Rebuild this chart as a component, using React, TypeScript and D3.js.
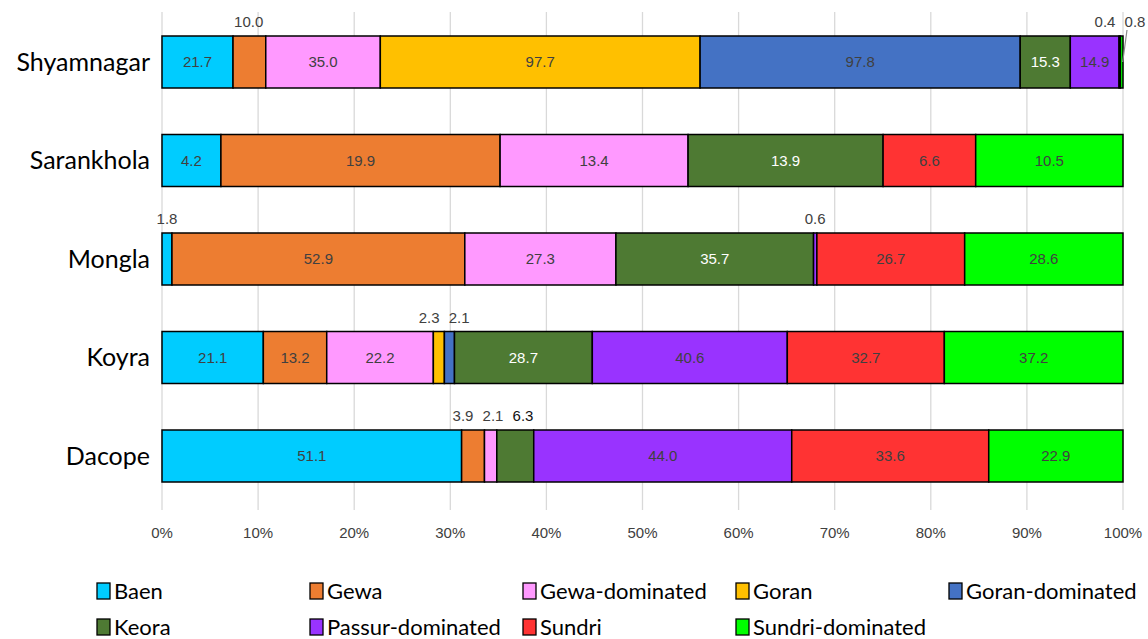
import React from 'react';
import * as d3 from 'd3';

const sites = ['Shyamnagar', 'Sarankhola', 'Mongla', 'Koyra', 'Dacope'];
const classes = ['Baen', 'Gewa', 'Gewa-dominated', 'Goran', 'Goran-dominated', 'Keora', 'Passur-dominated', 'Sundri', 'Sundri-dominated'];
const colors = ['#00CCFF', '#ED7D31', '#FF99FF', '#FFC000', '#4472C4', '#4E7A33', '#9933FF', '#FF3333', '#00FF00'];

// values per site, in class order (0 = absent)
const shyamnagar = [21.7, 10.0, 35.0, 97.7, 97.8, 15.3, 14.9, 0.4, 0.8];
const sarankhola = [4.2, 19.9, 13.4, 0, 0, 13.9, 0, 6.6, 10.5];
const mongla = [1.8, 52.9, 27.3, 0, 0, 35.7, 0.6, 26.7, 28.6];
const koyra = [21.1, 13.2, 22.2, 2.3, 2.1, 28.7, 40.6, 32.7, 37.2];
const dacope = [51.1, 3.9, 2.1, 0, 0, 6.3, 44.0, 33.6, 22.9];

const rows = [shyamnagar, sarankhola, mongla, koyra, dacope];

const W = 1148, H = 639;
const whiteText = new Set(['Keora']);
const valFont = 'Liberation Sans, Arial, sans-serif';

export default function App() {
  const x = d3.scaleLinear().domain([0, 1]).range([162, 1123]);
  const y = d3.scalePoint<string>().domain(sites).range([62, 456]);
  const barH = 52;
  const grid = x.ticks(10);
  const minW = 42;

  const segs: any[] = [];
  const outside: any[] = [];
  sites.forEach((site, i) => {
    const vals = rows[i];
    const total = d3.sum(vals);
    let acc = 0;
    const above: any[] = [];
    vals.forEach((v, j) => {
      if (v <= 0) return;
      const x0 = x(acc / total);
      acc += v;
      const x1 = x(acc / total);
      const s = { site, cls: classes[j], color: colors[j], v, x0, x1, y: y(site)! };
      segs.push(s);
      if (x1 - x0 < minW) above.push({ ...s, cx: (x0 + x1) / 2, lx: (x0 + x1) / 2 });
    });
    // spread overlapping outside labels
    const minGap = 30;
    for (let it = 0; it < 60; it++) {
      for (let k = 1; k < above.length; k++) {
        const a = above[k - 1], b = above[k];
        const d = b.lx - a.lx;
        if (d < minGap) {
          const push = (minGap - d) / 2;
          a.lx -= push;
          b.lx += push;
        }
      }
    }
    // keep labels inside the page
    if (above.length) {
      const over = above[above.length - 1].lx + 13 - W;
      if (over > 0) above.forEach(a => (a.lx -= over));
    }
    outside.push(...above);
  });

  const legendCols = 5;

  return (
    <svg width={W} height={H} style={{ position: 'absolute', left: 0, top: 0, background: '#fff' }}>
      {grid.map(t => (
        <line key={t} x1={x(t)} x2={x(t)} y1={12} y2={510} stroke="#D9D9D9" strokeWidth={1.3} />
      ))}
      {grid.map(t => (
        <text key={'t' + t} x={x(t)} y={538} textAnchor="middle" fontFamily={valFont} fontSize={15} fill="#404040">
          {d3.format('.0%')(t)}
        </text>
      ))}
      {sites.map(s => (
        <text key={s} x={150} y={y(s)!} dy="0.35em" textAnchor="end" fontFamily="Lato, Calibri, sans-serif" fontSize={25} fill="#000">
          {s}
        </text>
      ))}
      {segs.map((s, i) => (
        <rect key={i} x={s.x0} y={s.y - barH / 2} width={s.x1 - s.x0} height={barH} fill={s.color} stroke="#000" strokeWidth={1.5} />
      ))}
      {segs.filter(s => s.x1 - s.x0 >= minW).map((s, i) => (
        <text key={'v' + i} x={(s.x0 + s.x1) / 2} y={s.y} dy="0.35em" textAnchor="middle" fontFamily={valFont} fontSize={15}
          fill={whiteText.has(s.cls) ? '#fff' : '#404040'}>
          {d3.format('.1f')(s.v)}
        </text>
      ))}
      {outside.map((s, i) => {
        const ty = s.y - barH / 2 - 14;
        const beyond = s.lx > x.range()[1] + 4;
        return (
          <g key={'o' + i}>
            {beyond && <line x1={s.cx + 1} y1={s.y} x2={s.lx - 8} y2={ty + 8} stroke="#8C8C8C" strokeWidth={1.2} />}
            <text x={s.lx} y={ty} dy="0.35em" textAnchor="middle" fontFamily={valFont} fontSize={15}
              fill={s.cls === 'Keora' ? '#111' : '#404040'}>
              {d3.format('.1f')(s.v)}
            </text>
          </g>
        );
      })}
      {classes.map((c, i) => {
        const col = i % legendCols, row = Math.floor(i / legendCols);
        const lx = 97 + col * 213, ly = 591 + row * 36;
        return (
          <g key={c}>
            <rect x={lx} y={ly - 8} width={13} height={16} fill={colors[i]} stroke="#000" strokeWidth={1.3} />
            <text x={lx + 17} y={ly} dy="0.35em" fontFamily="Lato, Calibri, sans-serif" fontSize={22} fill="#000">{c}</text>
          </g>
        );
      })}
    </svg>
  );
}
